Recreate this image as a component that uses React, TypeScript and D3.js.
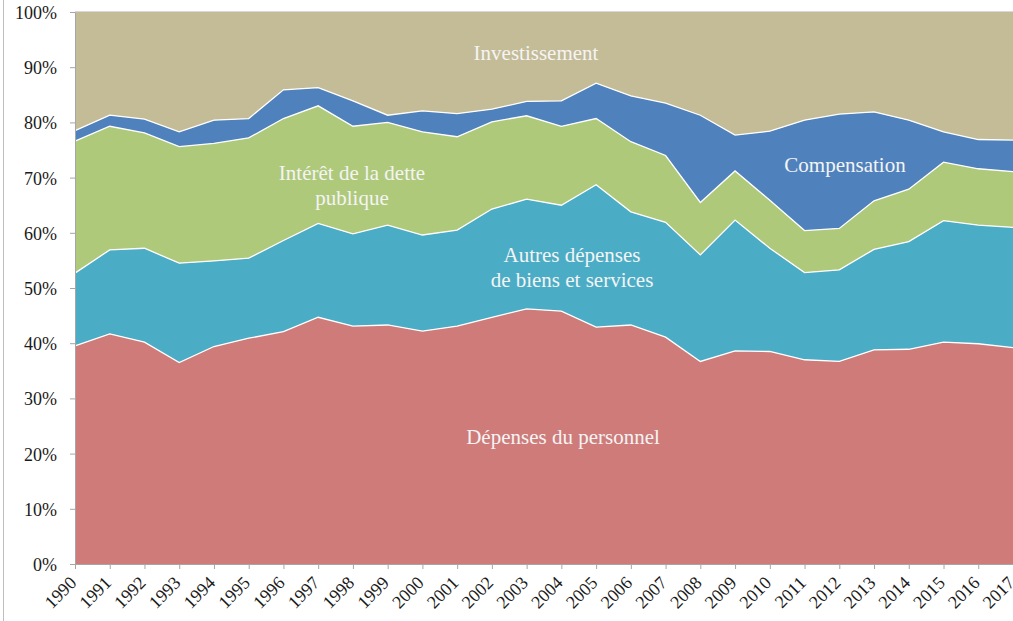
import React, { useEffect, useRef } from 'react';
import * as d3 from 'd3';

const years = [1990, 1991, 1992, 1993, 1994, 1995, 1996, 1997, 1998, 1999, 2000, 2001, 2002, 2003,
    2004, 2005, 2006, 2007, 2008, 2009, 2010, 2011, 2012, 2013, 2014, 2015, 2016, 2017];

// shares of total spending, %
const personnel = [39.5, 41.7, 40.2, 36.5, 39.4, 40.9, 42.1, 44.7, 43.1, 43.3, 42.2, 43.1, 44.7, 46.2,
    45.8, 42.9, 43.3, 41.1, 36.7, 38.6, 38.5, 37.0, 36.7, 38.8, 38.9, 40.2, 39.9, 39.2];
const autres = [13.2, 15.2, 17.0, 18.0, 15.5, 14.5, 16.5, 17.0, 16.7, 18.1, 17.4, 17.4, 19.6, 19.9,
    19.2, 25.8, 20.5, 20.8, 19.3, 23.7, 18.7, 15.8, 16.6, 18.2, 19.5, 22.0, 21.5, 21.8];
const interet = [23.9, 22.4, 20.9, 21.1, 21.3, 21.8, 22.1, 21.3, 19.5, 18.6, 18.7, 16.9, 15.8, 15.1,
    14.3, 12.0, 12.7, 12.1, 9.5, 8.9, 8.7, 7.6, 7.5, 8.8, 9.5, 10.6, 10.2, 10.1];
const compensation = [1.9, 2.0, 2.5, 2.7, 4.2, 3.5, 5.2, 3.3, 4.6, 1.3, 3.8, 4.2, 2.3, 2.6,
    4.6, 6.4, 8.3, 9.5, 15.8, 6.5, 12.5, 20.0, 20.7, 16.1, 12.5, 5.5, 5.3, 5.7];
const investissement = [21.5, 18.7, 19.4, 21.7, 19.6, 19.3, 14.1, 13.7, 16.1, 18.7, 17.9, 18.4, 17.6, 16.2,
    16.1, 12.9, 15.2, 16.5, 18.7, 22.3, 21.6, 19.6, 18.5, 18.1, 19.6, 21.7, 23.1, 23.2];

const seriesKeys = ['personnel', 'autres', 'interet', 'compensation', 'investissement'];
const colors = ['#CF7B79', '#4BACC6', '#AFC97B', '#4F81BD', '#C4BC97'];
const yTicks = [0, 0.1, 0.2, 0.3, 0.4, 0.5, 0.6, 0.7, 0.8, 0.9, 1];

// [text lines, x, y of first baseline]
const labels = [
    { lines: ['Investissement'], x: 536, y: 60 },
    { lines: ['Intérêt de la dette', 'publique'], x: 352, y: 180 },
    { lines: ['Compensation'], x: 845, y: 172 },
    { lines: ['Autres dépenses', 'de biens et services'], x: 572, y: 262 },
    { lines: ['Dépenses du personnel'], x: 563, y: 444 },
];

const W = 1013, H = 621;
const margin = { top: 12, right: 0, bottom: 57, left: 75 };

const App = () => {
    const ref = useRef(null);

    useEffect(() => {
        const svg = d3.select(ref.current);
        svg.selectAll('*').remove();

        const rows = years.map((yr, i) => ({
            year: yr,
            personnel: personnel[i],
            autres: autres[i],
            interet: interet[i],
            compensation: compensation[i],
            investissement: investissement[i],
        }));

        const stack = d3.stack().keys(seriesKeys).offset(d3.stackOffsetExpand);
        const layers = stack(rows);

        const x = d3.scaleLinear().domain([1990, 2017]).range([margin.left, W - margin.right]);
        const y = d3.scaleLinear().domain([0, 1]).range([H - margin.bottom, margin.top]);

        // outer frame line on the left
        svg.append('line')
            .attr('x1', 3.5).attr('x2', 3.5).attr('y1', 0).attr('y2', H)
            .attr('stroke', '#BFBFBF').attr('stroke-width', 1);

        svg.append('line')
            .attr('x1', margin.left).attr('x2', W).attr('y1', y(1) - 0.5).attr('y2', y(1) - 0.5)
            .attr('stroke', '#D9D9D9');

        const area = d3.area()
            .x(d => x(d.data.year))
            .y0(d => y(d[0]))
            .y1(d => y(d[1]));

        svg.append('g').selectAll('path').data(layers).enter().append('path')
            .attr('d', area)
            .attr('fill', (_, i) => colors[i]);

        const topLine = d3.line()
            .x(d => x(d.data.year))
            .y(d => y(d[1]));

        svg.append('g').selectAll('path').data(layers.slice(0, 4)).enter().append('path')
            .attr('d', topLine)
            .attr('fill', 'none')
            .attr('stroke', '#FFFFFF')
            .attr('stroke-width', 1.3);

        // y axis
        const yAxis = svg.append('g')
            .attr('transform', `translate(${margin.left},0)`)
            .call(d3.axisLeft(y).tickValues(yTicks).tickFormat(d3.format('.0%')).tickSize(5).tickSizeOuter(0));
        yAxis.select('.domain').attr('stroke', '#A6A6A6');
        yAxis.selectAll('.tick line').attr('stroke', '#A6A6A6');
        yAxis.selectAll('.tick text')
            .attr('x', -18)
            .attr('dy', '0.36em')
            .style('font-family', '"Liberation Serif", "Times New Roman", serif')
            .style('font-size', '18px')
            .attr('fill', '#1A1A1A');

        // x axis
        const xAxis = svg.append('g')
            .attr('transform', `translate(0,${y(0)})`)
            .call(d3.axisBottom(x).tickValues(years).tickFormat(d3.format('d')).tickSize(5).tickSizeOuter(0));
        xAxis.select('.domain').attr('stroke', '#A6A6A6');
        xAxis.selectAll('.tick line').attr('stroke', '#A6A6A6');
        xAxis.selectAll('.tick text')
            .attr('y', 0)
            .attr('dy', 0)
            .attr('text-anchor', 'end')
            .attr('transform', 'translate(2,20) rotate(-45)')
            .style('font-family', '"Liberation Serif", "Times New Roman", serif')
            .style('font-size', '18px')
            .attr('fill', '#1A1A1A');

        // series labels
        const lab = svg.append('g')
            .style('font-family', '"Liberation Serif", "Times New Roman", serif')
            .style('font-size', '21px')
            .attr('fill', '#F4F4F4')
            .attr('text-anchor', 'middle');
        labels.forEach(l => {
            l.lines.forEach((t, j) => {
                lab.append('text').attr('x', l.x).attr('y', l.y + j * 25).text(t);
            });
        });
    }, []);

    return (
        <div style={{ position: 'absolute', left: 0, top: 0, background: '#fff' }}>
            <svg ref={ref} width={W} height={H} />
        </div>
    );
};

export default App;
